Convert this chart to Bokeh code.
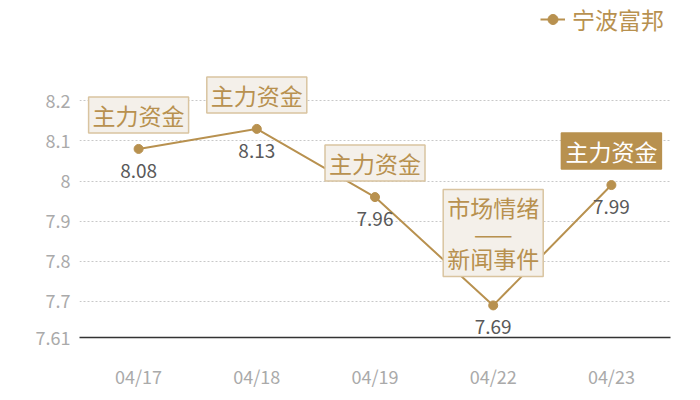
from bokeh.plotting import figure
from bokeh.models import ColumnDataSource, Label, Legend, LegendItem, FixedTicker
from bokeh.core.properties import value
from bokeh.embed import file_html
from bokeh.resources import INLINE

# ---- data ----
dates = ["04/17", "04/18", "04/19", "04/22", "04/23"]
prices = [8.08, 8.13, 7.96, 7.69, 7.99]
notes = ["主力资金", "主力资金", "主力资金", "市场情绪\n——\n新闻事件", "主力资金"]
highlight = [False, False, False, False, True]
y_ticks = [7.61, 7.7, 7.8, 7.9, 8.0, 8.1, 8.2]
y_tick_labels = ["7.61", "7.7", "7.8", "7.9", "8", "8.1", "8.2"]
series_name = "宁波富邦"

TAN = "#b8914f"
FONT = "Noto Sans CJK SC"

src = ColumnDataSource(dict(x=dates, y=prices, t=[f"{v:.2f}" for v in prices]))

p = figure(width=700, height=400, x_range=dates, y_range=(7.61, 8.45),
           output_backend="svg", toolbar_location=None,
           min_border_left=79, min_border_right=30, min_border_top=0, min_border_bottom=63)
p.outline_line_color = None
p.background_fill_color = "white"

# axes
p.xgrid.grid_line_color = None
p.ygrid.grid_line_color = "#c8c8c8"
p.ygrid.grid_line_dash = "2 2"
p.ygrid.grid_line_width = 1
p.yaxis.ticker = FixedTicker(ticks=y_ticks)
p.yaxis.major_label_overrides = {t: l for t, l in zip(y_ticks, y_tick_labels)}
p.yaxis.axis_line_color = None
p.yaxis.major_tick_line_color = None
p.yaxis.minor_tick_line_color = None
p.yaxis.major_label_standoff = 9
p.yaxis.major_tick_out = 0
p.xaxis.axis_line_color = "#333333"
p.xaxis.axis_line_width = 1.5
p.xaxis.major_tick_line_color = None
p.xaxis.major_tick_out = 0
p.xaxis.major_label_standoff = 25
for ax in (p.xaxis, p.yaxis):
    ax.major_label_text_color = "#aaaaaa"
    ax.major_label_text_font = FONT
    ax.major_label_text_font_size = "18px"

# series
ln = p.line("x", "y", source=src, line_color=TAN, line_width=2)
pts = p.scatter("x", "y", source=src, size=9, fill_color=TAN, line_color=TAN)

# value labels
p.text("x", "y", text="t", source=src, text_align="center", text_baseline="middle",
       y_offset=22, text_color="#595959", text_font=value(FONT), text_font_size="19px")

# annotation boxes (x in the categorical range's synthetic coordinates)
for i, (v, n, h) in enumerate(zip(prices, notes, highlight)):
    multi = "\n" in n
    lab = Label(x=i + 0.5, y=v, text=n, y_offset=29 if multi else 16,
                text_align="center", text_baseline="bottom",
                text_font=FONT, text_font_size="23px",
                text_line_height=0.75 if multi else 1.0,
                text_color="white" if h else TAN,
                background_fill_color=TAN if h else "#f4f0ea",
                border_line_color=TAN if h else "#d9c4a0", border_line_width=1.5,
                padding=(4, 1))
    p.add_layout(lab)

legend = Legend(items=[LegendItem(label=series_name, renderers=[ln, pts])],
                location=(461, 301), orientation="horizontal",
                border_line_color=None, background_fill_alpha=0,
                label_text_color=TAN, label_text_font=FONT, label_text_font_size="23px",
                glyph_width=25, glyph_height=34, label_height=34, label_standoff=7,
                padding=0, margin=0, spacing=0)
p.add_layout(legend)

open("out.html", "w").write(file_html(p, INLINE))
